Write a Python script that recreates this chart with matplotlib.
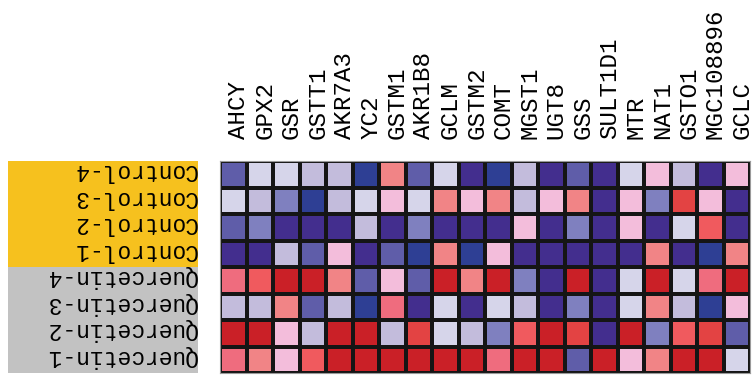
import matplotlib.pyplot as plt
import numpy as np
from matplotlib.colors import ListedColormap, BoundaryNorm
from matplotlib.patches import Rectangle
import matplotlib.transforms as mtransforms

# Гены (столбцы) и образцы (строки, сверху вниз)
genes = ['AHCY', 'GPX2', 'GSR', 'GSTT1', 'AKR7A3', 'YC2', 'GSTM1', 'AKR1B8',
         'GCLM', 'GSTM2', 'COMT', 'MGST1', 'UGT8', 'GSS', 'SULT1D1', 'MTR',
         'NAT1', 'GSTO1', 'MGC108896', 'GCLC']
samples = ['Control-4', 'Control-3', 'Control-2', 'Control-1',
           'Quercetin-4', 'Quercetin-3', 'Quercetin-2', 'Quercetin-1']
groups = ['Control'] * 4 + ['Quercetin'] * 4

# Уровни экспрессии (0 - сильное снижение, 11 - сильное повышение)
levels = [
    [2, 5, 5, 4, 4, 1, 7, 2, 5, 0, 1, 4, 0, 2, 0, 5, 6, 4, 0, 6],
    [5, 4, 3, 1, 4, 5, 6, 5, 7, 6, 7, 4, 6, 7, 0, 6, 3, 10, 6, 0],
    [2, 3, 0, 0, 0, 4, 0, 3, 0, 0, 0, 6, 0, 3, 0, 6, 0, 5, 9, 0],
    [0, 0, 4, 2, 6, 0, 2, 1, 7, 1, 6, 0, 0, 0, 0, 0, 7, 0, 1, 7],
    [8, 9, 11, 11, 7, 2, 6, 2, 11, 7, 11, 3, 0, 11, 0, 5, 11, 5, 8, 11],
    [4, 4, 7, 2, 4, 1, 8, 0, 5, 0, 5, 4, 0, 3, 0, 5, 7, 4, 1, 6],
    [11, 11, 6, 4, 11, 11, 4, 10, 5, 4, 3, 9, 11, 10, 0, 11, 3, 9, 10, 2],
    [8, 7, 6, 9, 11, 11, 11, 11, 11, 11, 8, 11, 11, 2, 11, 6, 7, 11, 11, 5],
]

palette = ['#432E8E', '#2E3F94', '#5F5DA9', '#7F80BF', '#C3BCDC', '#D6D5EA',
           '#F3BDDB', '#F18486', '#EF6C7E', '#F05A5E', '#E34343', '#CA2027']
group_colors = {'Control': '#F6C11E', 'Quercetin': '#C2C2C2'}

cmap = ListedColormap(palette)
norm = BoundaryNorm(np.arange(len(palette) + 1) - 0.5, cmap.N)

fig = plt.figure(figsize=(7.52, 3.80), dpi=100)
ax = fig.add_axes([220 / 752, 7 / 380, 530 / 752, 212 / 380])

data = np.array(levels)
ax.pcolormesh(np.arange(len(genes) + 1) - 0.5, np.arange(len(samples) + 1) - 0.5,
              data, cmap=cmap, norm=norm, edgecolors='#151515', linewidth=1.6)
ax.set_xlim(-0.5, len(genes) - 0.5)
ax.set_ylim(len(samples) - 0.5, -0.5)

mono = 'Liberation Mono'
ax.xaxis.tick_top()
ax.set_xticks(range(len(genes)))
ax.set_xticklabels(genes, rotation=90, fontsize=17.4, family=mono)
ax.set_yticks(range(len(samples)))
ax.set_yticklabels(samples, rotation=180, fontsize=16.5, family=mono)
ax.tick_params(length=0)
ax.tick_params(axis='x', pad=16)
ax.tick_params(axis='y', pad=17)

# небольшие сдвиги подписей: гены чуть вправо, образцы чуть вверх
dx = mtransforms.ScaledTranslation(5 / 100, 0, fig.dpi_scale_trans)
dy = mtransforms.ScaledTranslation(0, 6 / 100, fig.dpi_scale_trans)
for lbl in ax.get_xticklabels():
    lbl.set_transform(lbl.get_transform() + dx)
for lbl in ax.get_yticklabels():
    lbl.set_transform(lbl.get_transform() + dy)

for sp in ax.spines.values():
    sp.set_color('#9a9a9a')
    sp.set_linewidth(0.8)

# Цветные плашки групп за подписями строк
trans = mtransforms.blended_transform_factory(ax.transAxes, ax.transData)
x0 = (8 - 220) / 530
w = (198 - 8) / 530
for i, g in enumerate(groups):
    ax.add_patch(Rectangle((x0, i - 0.5), w, 1, transform=trans,
                           facecolor=group_colors[g], edgecolor='none',
                           clip_on=False, zorder=-1))

fig.savefig('out.png', dpi=100)
